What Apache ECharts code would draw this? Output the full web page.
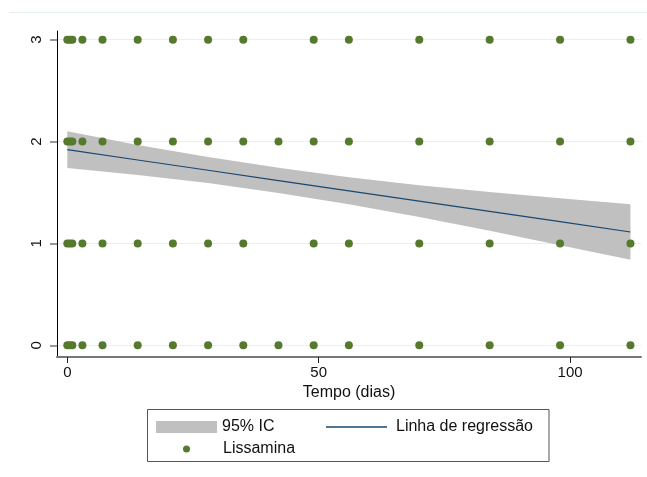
<!DOCTYPE html>
<html>
<head>
<meta charset="utf-8">
<script src="https://cdn.jsdelivr.net/npm/echarts@6/dist/echarts.min.js"></script>
<style>
  html, body { margin: 0; padding: 0; background: #fff; }
  #chart { width: 647px; height: 477px; }
</style>
</head>
<body>
<div id="chart"></div>
<script>
// Observed times (days) for each Lissamina score
const escore0 = [0, 0.5, 1, 3, 7, 14, 21, 28, 35, 42, 49, 56, 70, 84, 98, 112];
const escore1 = [0, 0.5, 1, 3, 7, 14, 21, 28, 35, 49, 56, 70, 84, 98, 112];
const escore2 = [0, 0.5, 1, 3, 7, 14, 21, 28, 35, 42, 49, 56, 70, 84, 98, 112];
const escore3 = [0, 0.5, 1, 3, 7, 14, 21, 28, 35, 49, 56, 70, 84, 98, 112];

// Fitted regression line and its 95% confidence band
const ajusteX    = [0, 14, 28, 42, 56, 70, 84, 98, 112];
const ajusteY    = [1.920, 1.819, 1.718, 1.617, 1.516, 1.415, 1.314, 1.213, 1.112];
const icSuperior = [2.101, 1.966, 1.848, 1.742, 1.650, 1.571, 1.504, 1.443, 1.384];
const icInferior = [1.739, 1.672, 1.593, 1.496, 1.384, 1.259, 1.124, 0.983, 0.840];

// Axis ticks
const ticksX = [0, 50, 100];
const ticksY = [0, 1, 2, 3];

const FONT = '"Liberation Sans", Arial, sans-serif';

const pontos = [];
[[0, escore0], [1, escore1], [2, escore2], [3, escore3]].forEach(([nivel, tempos]) => {
  tempos.forEach(t => pontos.push([t, nivel]));
});

const chart = echarts.init(document.getElementById('chart'), null, { renderer: 'canvas' });

chart.setOption({
  animation: false,
  backgroundColor: '#ffffff',
  grid: { left: 57, right: 6, top: 31, bottom: 120, containLabel: false },
  xAxis: {
    type: 'value',
    min: -2.05,
    max: 114.1,
    name: 'Tempo (dias)',
    nameLocation: 'middle',
    nameGap: 26,
    nameTextStyle: { fontFamily: FONT, fontSize: 16, color: '#111' },
    axisLine: { show: true, onZero: false, lineStyle: { color: '#777', width: 2 } },
    axisTick: { show: true, customValues: ticksX, length: 6, lineStyle: { color: '#222', width: 1 } },
    axisLabel: { customValues: ticksX, margin: 8, fontFamily: FONT, fontSize: 15, color: '#111' },
    splitLine: { show: false }
  },
  yAxis: {
    type: 'value',
    min: -0.115,
    max: 3.085,
    axisLine: { show: true, onZero: false, lineStyle: { color: '#000', width: 1 } },
    axisTick: { show: true, customValues: ticksY, length: 7, lineStyle: { color: '#777', width: 1.5 } },
    axisLabel: { customValues: ticksY, rotate: 90, margin: 13, fontFamily: FONT, fontSize: 15, color: '#111' },
    splitLine: { show: false }
  },
  legend: [
    {
      left: 156, top: 419, padding: 0, itemWidth: 61, itemHeight: 12,
      textStyle: { fontFamily: FONT, fontSize: 16, color: '#111' },
      data: [{ name: '95% IC', icon: 'rect' }],
      selectedMode: false
    },
    {
      left: 326, top: 419, padding: 0, itemWidth: 61, itemHeight: 1.3,
      textStyle: { fontFamily: FONT, fontSize: 16, color: '#111', padding: [0, 0, 0, 4] },
      itemStyle: { color: '#1a476f' },
      data: [{ name: 'Linha de regressão', icon: 'rect' }],
      selectedMode: false
    },
    {
      left: 183, top: 441, padding: 0, itemWidth: 7, itemHeight: 7,
      textStyle: { fontFamily: FONT, fontSize: 16, color: '#111', padding: [0, 0, 0, 28] },
      data: [{ name: 'Lissamina', icon: 'circle' }],
      selectedMode: false
    }
  ],
  graphic: [
    { type: 'line', shape: { x1: 9, y1: 12.5, x2: 647, y2: 12.5 }, style: { stroke: '#e6eef0', lineWidth: 1 }, silent: true },
    { type: 'rect', shape: { x: 147.5, y: 409.5, width: 401.5, height: 52 }, style: { fill: 'none', stroke: '#555', lineWidth: 1 }, silent: true, z: 10 }
  ],
  series: [
    {
      name: 'grade',
      type: 'line',
      data: [],
      silent: true,
      z: 0,
      markLine: {
        silent: true,
        symbol: 'none',
        z: 0,
        label: { show: false },
        lineStyle: { color: '#e8eff1', width: 1, type: 'solid' },
        data: ticksY.map(v => ({ yAxis: v }))
      }
    },
    {
      name: '95% IC',
      type: 'custom',
      z: 2,
      silent: true,
      itemStyle: { color: '#c0c0c0' },
      data: [[ajusteX[0], icInferior[0]]],
      renderItem: function (params, api) {
        const pts = [];
        for (let i = 0; i < ajusteX.length; i++) pts.push(api.coord([ajusteX[i], icSuperior[i]]));
        for (let i = ajusteX.length - 1; i >= 0; i--) pts.push(api.coord([ajusteX[i], icInferior[i]]));
        return { type: 'polygon', shape: { points: pts }, style: { fill: '#c0c0c0' } };
      }
    },
    {
      name: 'Linha de regressão',
      type: 'line',
      z: 3,
      symbol: 'none',
      silent: true,
      lineStyle: { color: '#1a476f', width: 1.2 },
      itemStyle: { color: '#1a476f' },
      data: ajusteX.map((x, i) => [x, ajusteY[i]])
    },
    {
      name: 'Lissamina',
      type: 'scatter',
      z: 4,
      symbol: 'circle',
      symbolSize: 8,
      silent: true,
      itemStyle: { color: '#557a2e', opacity: 1 },
      data: pontos
    }
  ]
});
</script>
</body>
</html>
